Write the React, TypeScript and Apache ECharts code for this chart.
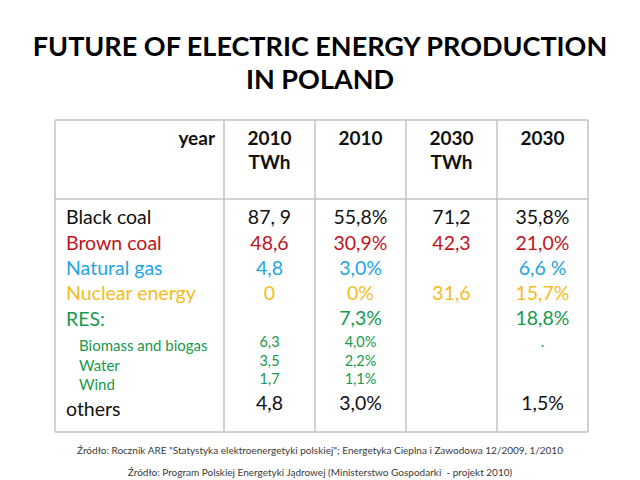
import React, { useEffect, useRef } from "react";
import * as echarts from "echarts";

const titleLines = ["FUTURE OF ELECTRIC ENERGY PRODUCTION", "IN POLAND"];
const headerLabel = "year";
const columnHeaders = [["2010", "TWh"], ["2010"], ["2030", "TWh"], ["2030"]];
const rowLabels = ["Black coal", "Brown coal", "Natural gas", "Nuclear energy", "RES:", "Biomass and biogas", "Water", "Wind", "others"];
const twh2010 = ["87, 9", "48,6", "4,8", "0", "", "6,3", "3,5", "1,7", "4,8"];
const share2010 = ["55,8%", "30,9%", "3,0%", "0%", "7,3%", "4,0%", "2,2%", "1,1%", "3,0%"];
const twh2030 = ["71,2", "42,3", "", "31,6", "", "", "", "", ""];
const share2030 = ["35,8%", "21,0%", "6,6 %", "15,7%", "18,8%", ".", "", "", "1,5%"];
const sources = [
  "Źródło: Rocznik ARE \"Statystyka elektroenergetyki polskiej\"; Energetyka Cieplna i Zawodowa 12/2009, 1/2010",
  "Źródło: Program Polskiej Energetyki Jądrowej (Ministerstwo Gospodarki  - projekt 2010)",
];

// layout / style
const FONT = "Lato, 'Open Sans', sans-serif";
const rowColors = ["#111111", "#c0141c", "#1ea6e0", "#f6bc1c", "#19994d", "#19994d", "#19994d", "#19994d", "#111111"];
const isSub = [false, false, false, false, false, true, true, true, false];
const labelY = [216, 242, 267, 292, 318, 345, 365, 384, 408];
const valueY = [216, 242, 267, 292, 317, 341, 360, 378, 402];
const colX = [55, 224, 315, 406, 497, 588];
const tableTop = 120;
const headerBottom = 199;
const tableBottom = 432;
const BORDER = "#c3c3c3";

export default function App() {
  const ref = useRef<HTMLDivElement>(null);
  useEffect(() => {
    if (!ref.current) return;
    const chart = echarts.init(ref.current, null, { renderer: "svg" });
    const elements: any[] = [];
    // title
    titleLines.forEach((t, i) => {
      elements.push({
        type: "text",
        x: 320,
        y: 45 + i * 33,
        style: { text: t, fill: "#000", font: `bold 27px ${FONT}`, textAlign: "center", textVerticalAlign: "middle" },
      });
    });
    // borders
    const lineStyle = { stroke: BORDER, lineWidth: 1.5 };
    [tableTop, headerBottom, tableBottom].forEach((y) => {
      elements.push({ type: "line", shape: { x1: colX[0], y1: y, x2: colX[5], y2: y }, style: lineStyle });
    });
    colX.forEach((x) => {
      elements.push({ type: "line", shape: { x1: x, y1: tableTop, x2: x, y2: tableBottom }, style: lineStyle });
    });
    // header
    elements.push({
      type: "text",
      x: colX[1] - 9,
      y: 137,
      style: { text: headerLabel, fill: "#111", font: `bold 19px ${FONT}`, textAlign: "right", textVerticalAlign: "middle" },
    });
    columnHeaders.forEach((lines, c) => {
      const cx = (colX[c + 1] + colX[c + 2]) / 2;
      lines.forEach((t, i) => {
        elements.push({
          type: "text",
          x: cx,
          y: 137 + i * 24,
          style: { text: t, fill: "#111", font: `bold 19px ${FONT}`, textAlign: "center", textVerticalAlign: "middle" },
        });
      });
    });
    // body
    const cols = [twh2010, share2010, twh2030, share2030];
    rowLabels.forEach((label, r) => {
      const sub = isSub[r];
      elements.push({
        type: "text",
        x: sub ? 79 : 66,
        y: labelY[r],
        style: { text: label, fill: rowColors[r], font: `${sub ? 15 : 19.5}px ${FONT}`, textAlign: "left", textVerticalAlign: "middle" },
      });
      cols.forEach((col, c) => {
        const v = col[r];
        if (!v) return;
        const cx = (colX[c + 1] + colX[c + 2]) / 2;
        elements.push({
          type: "text",
          x: cx,
          y: valueY[r],
          style: { text: v, fill: rowColors[r], font: `${sub ? 14.5 : 19.5}px ${FONT}`, textAlign: "center", textVerticalAlign: "middle" },
        });
      });
    });
    // sources
    sources.forEach((s, i) => {
      elements.push({
        type: "text",
        x: 320,
        y: 450 + i * 22,
        style: { text: s, fill: "#3a3a3a", font: `10px ${FONT}`, textAlign: "center", textVerticalAlign: "middle" },
      });
    });
    chart.setOption({
      animation: false,
      backgroundColor: "#ffffff",
      graphic: { elements },
    });
    return () => chart.dispose();
  }, []);
  return <div ref={ref} style={{ position: "fixed", left: 0, top: 0, width: 640, height: 480 }} />;
}
